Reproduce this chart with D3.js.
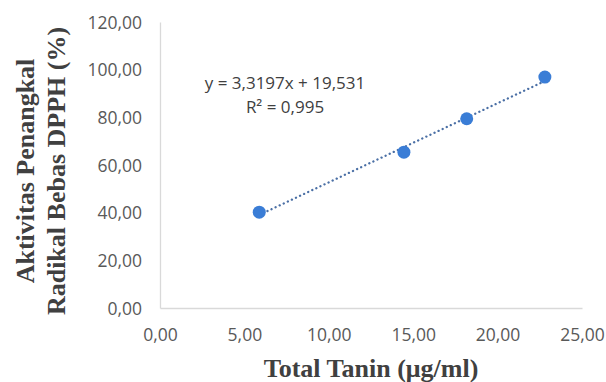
<!DOCTYPE html>
<html>
<head>
<meta charset="utf-8">
<script src="https://cdn.jsdelivr.net/npm/d3@7"></script>
<style>
  body { margin: 0; background: #fff; }
  svg { display: block; }
</style>
</head>
<body>
<svg id="chart" width="606" height="382"></svg>
<script>
// Data
const tanin = [5.88, 14.45, 18.17, 22.8];
const aktivitas = [40.2, 65.4, 79.4, 96.9];
const xTicks = [0, 5, 10, 15, 20, 25];
const yTicks = [0, 20, 40, 60, 80, 100, 120];
const slope = 3.3197;
const intercept = 19.531;
const eqLabel = 'y = 3,3197x + 19,531';
const r2Label = 'R² = 0,995';

const svg = d3.select('#chart');
const margin = { top: 22, left: 160, right: 24, bottom: 74 };
const width = 606 - margin.left - margin.right;
const height = 382 - margin.top - margin.bottom;

const fmt = d => d.toFixed(2).replace('.', ',');

const x = d3.scaleLinear().domain([0, 25]).range([0, width]);
const y = d3.scaleLinear().domain([0, 120]).range([height, 0]);

const g = svg.append('g').attr('transform', `translate(${margin.left},${margin.top})`);

// axes
const xAxis = g.append('g')
    .attr('transform', `translate(0,${height})`)
    .call(d3.axisBottom(x).tickValues(xTicks).tickFormat(fmt).tickSize(0).tickPadding(21));
const yAxis = g.append('g')
    .call(d3.axisLeft(y).tickValues(yTicks).tickFormat(fmt).tickSize(0).tickPadding(18));

[xAxis, yAxis].forEach(a => {
    a.select('.domain').attr('stroke', '#d9d9d9').attr('stroke-width', 1.3);
    a.selectAll('text')
        .attr('fill', '#595959')
        .style('font-family', '"Open Sans", "Liberation Sans", sans-serif')
        .style('font-size', '17.5px');
});
yAxis.selectAll('text').attr('dy', '0.35em');

// trendline
const [x0, x1] = d3.extent(tanin);
g.append('line')
    .attr('x1', x(x0)).attr('y1', y(slope * x0 + intercept))
    .attr('x2', x(x1)).attr('y2', y(slope * x1 + intercept))
    .attr('stroke', '#4a6fa5')
    .attr('stroke-width', 2.3)
    .attr('stroke-dasharray', '0.1 4.4')
    .attr('stroke-linecap', 'round');

// points
g.selectAll('circle')
    .data(tanin.map((t, i) => [t, aktivitas[i]]))
    .join('circle')
    .attr('cx', d => x(d[0]))
    .attr('cy', d => y(d[1]))
    .attr('r', 6.5)
    .attr('fill', '#3a7dd6');

// equation
const eq = g.append('text')
    .attr('text-anchor', 'middle')
    .attr('fill', '#404040')
    .style('font-family', '"Open Sans", "Liberation Sans", sans-serif')
    .style('font-size', '17px');
eq.append('tspan').attr('x', 125).attr('y', 67).text(eqLabel);
eq.append('tspan').attr('x', 125).attr('y', 91).text(r2Label);

// axis titles
svg.append('text')
    .attr('x', 371)
    .attr('y', 377)
    .attr('text-anchor', 'middle')
    .attr('fill', '#404040')
    .style('font-family', '"Liberation Serif", "Times New Roman", serif')
    .style('font-weight', 'bold')
    .style('font-size', '26px')
    .text('Total Tanin (μg/ml)');

const yt = svg.append('text')
    .attr('transform', 'translate(0,171) rotate(-90)')
    .attr('text-anchor', 'middle')
    .attr('fill', '#404040')
    .style('font-family', '"Liberation Serif", "Times New Roman", serif')
    .style('font-weight', 'bold')
    .style('font-size', '26px');
yt.append('tspan').attr('x', 0).attr('y', 34).text('Aktivitas Penangkal');
yt.append('tspan').attr('x', 0).attr('y', 65).text('Radikal Bebas DPPH (%)');
</script>
</body>
</html>
